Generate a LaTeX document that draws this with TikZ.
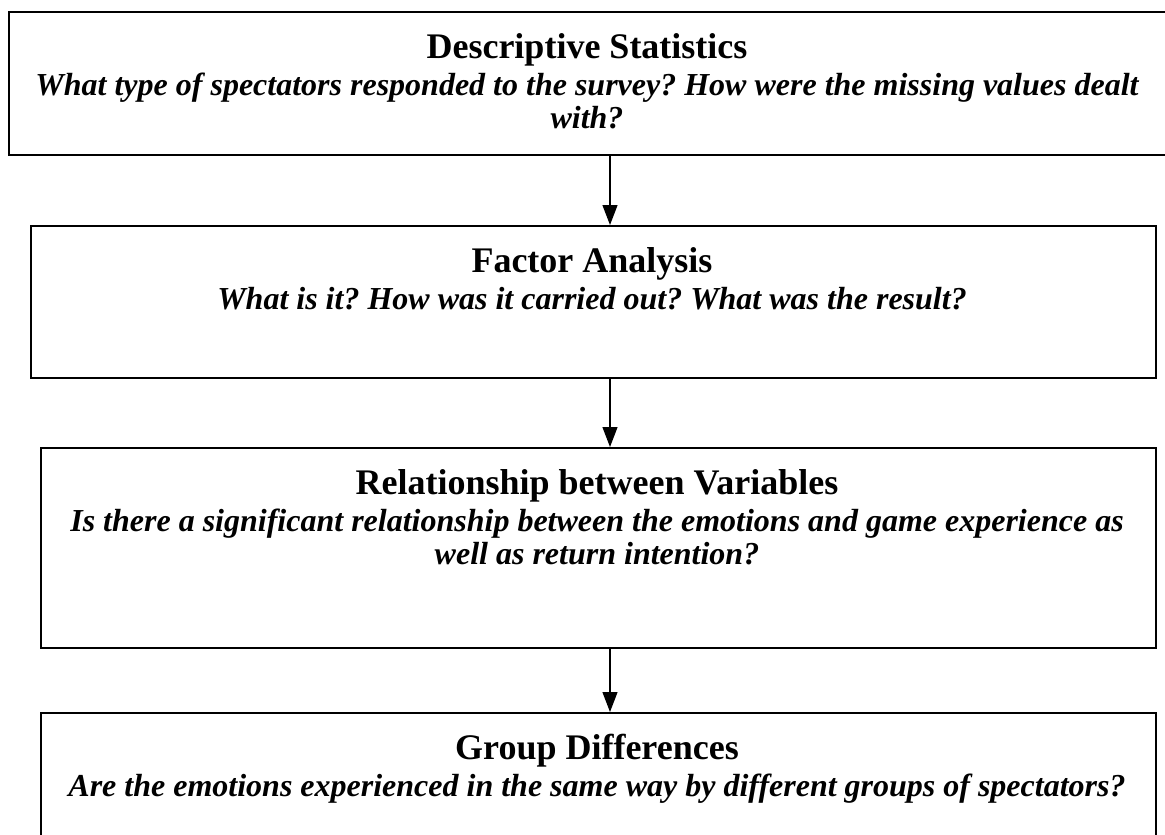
\documentclass[tikz,border=0pt]{standalone}
\usepackage{fontspec}
\setmainfont{Liberation Serif}
\usetikzlibrary{arrows.meta}
\frenchspacing
\begin{document}
\begin{tikzpicture}[x=1pt,y=1pt,
  stage/.style={draw, line width=1.6pt, rectangle, inner sep=0pt, anchor=north west},
  heading/.style={anchor=base, inner sep=0pt, font=\fontsize{36}{40}\selectfont\bfseries},
  question/.style={anchor=base, inner sep=0pt, font=\fontsize{32}{33}\selectfont\bfseries\itshape},
  flow/.style={line width=1.2pt, -{Triangle[width=15pt,length=20pt]}}]
\clip (0,0) rectangle (1165,-835);
\fill[white] (0,0) rectangle (1165,-835);

% stage boxes
\node[stage, minimum width=1160pt, minimum height=143pt] (s1) at (8,-11) {};
\node[stage, minimum width=1125pt, minimum height=152pt] (s2) at (30,-225) {};
\node[stage, minimum width=1115pt, minimum height=200pt] (s3) at (40,-447) {};
\node[stage, minimum width=1115pt, minimum height=160pt] (s4) at (40,-712) {};

% headings and questions
\node[heading]  (h1)  at (587,-58)  {Descriptive Statistics};
\node[question] (q1a) at (587,-95)  {What type of spectators responded to the survey? How were the missing values dealt};
\node[question] (q1b) at (587,-128) {with?};

\node[heading]  (h2)  at (592,-272) {Factor Analysis};
\node[question] (q2)  at (592,-309) {What is it? How was it carried out? What was the result?};

\node[heading]  (h3)  at (597,-494) {Relationship between Variables};
\node[question] (q3a) at (597,-531) {Is there a significant relationship between the emotions and game experience as};
\node[question] (q3b) at (597,-564) {well as return intention?};

\node[heading]  (h4)  at (597,-759) {Group Differences};
\node[question] (q4)  at (597,-796) {Are the emotions experienced in the same way by different groups of spectators?};

% connectors
\coordinate (axis) at (610,0);
\draw[flow] (s1.south -| axis) -- (s2.north -| axis);
\draw[flow] (s2.south -| axis) -- (s3.north -| axis);
\draw[flow] (s3.south -| axis) -- (s4.north -| axis);
\end{tikzpicture}
\end{document}
